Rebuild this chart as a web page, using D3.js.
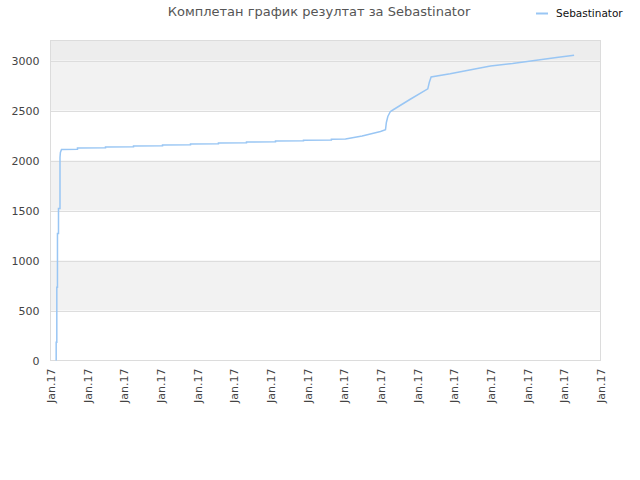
<!DOCTYPE html>
<html><head><meta charset="utf-8">
<script src="https://cdn.jsdelivr.net/npm/d3@7"></script>
<style>body{margin:0;background:#fff}svg{display:block;font-family:"DejaVu Sans",sans-serif}</style>
</head><body><svg id="c" width="640" height="480"></svg>
<script>
const title = "Комплетан график резултат за Sebastinator";
const seriesName = "Sebastinator";
const tickLabels = ["Jan.17","Jan.17","Jan.17","Jan.17","Jan.17","Jan.17","Jan.17","Jan.17","Jan.17","Jan.17","Jan.17","Jan.17","Jan.17","Jan.17","Jan.17","Jan.17"];
const yTicks = [0,500,1000,1500,2000,2500,3000];
const xs = [0.155,0.155,0.172,0.172,0.19,0.19,0.218,0.218,0.259,0.259,0.27,0.3,0.736,0.736,1.5,1.5,2.264,2.264,3.055,3.055,3.818,3.818,4.58,4.58,5.345,5.345,6.136,6.136,6.9,6.9,7.66,7.66,8.045,8.5,9.0,9.136,9.16,9.2,9.27,9.38,9.8,10.29,10.33,10.38,10.9,11.5,12,12.6,13.2,13.8,14.28];
const ys = [0,183,183,733,733,1270,1270,1520,1520,2030,2080,2110,2113,2125,2127,2135,2137,2145,2147,2155,2157,2165,2167,2175,2177,2185,2187,2195,2197,2202,2204,2212,2215,2245,2290,2307,2380,2440,2490,2515,2610,2717,2780,2835,2867,2910,2945,2970,3000,3030,3053];

const svg = d3.select("#c");
const L=50.5, R=600.5, T=40.5, B=360.5;
const x = d3.scaleLinear().domain([0, tickLabels.length-1]).range([L, R]);
const y = d3.scaleLinear().domain([0, 3200]).range([B, T]);

// bands
const bands = [[500,1000,"#f2f2f2"],[1500,2000,"#f2f2f2"],[2500,3000,"#f2f2f2"],[3000,3200,"#ededed"]];
svg.selectAll("rect.band").data(bands).enter().append("rect")
  .attr("x", L).attr("width", R-L)
  .attr("y", d=>y(d[1])).attr("height", d=>y(d[0])-y(d[1]))
  .attr("fill", d=>d[2]);
// grid
svg.selectAll("line.grid").data(yTicks.slice(1)).enter().append("line")
  .attr("x1", L).attr("x2", R).attr("y1", d=>Math.round(y(d))+0.5).attr("y2", d=>Math.round(y(d))+0.5)
  .attr("stroke", "#dddddd");
svg.append("rect").attr("x",L).attr("y",T).attr("width",R-L).attr("height",B-T)
  .attr("fill","none").attr("stroke","#dcdcdc");

// y axis
const ya = svg.append("g").attr("transform",`translate(${L},0)`)
  .call(d3.axisLeft(y).tickValues(yTicks).tickFormat(d3.format("d")).tickSize(0).tickPadding(11));
ya.select(".domain").remove();
ya.selectAll("text").attr("fill","#444").attr("font-size","11px").attr("font-family","DejaVu Sans");

// x axis
const xa = svg.append("g").attr("transform",`translate(0,${B})`)
  .call(d3.axisBottom(x).tickValues(d3.range(tickLabels.length)).tickFormat(i=>tickLabels[i]).tickSize(0));
xa.select(".domain").remove();
xa.selectAll("text").attr("fill","#444").attr("font-size","11px").attr("font-family","DejaVu Sans")
  .attr("text-anchor","end").attr("dy","0.35em")
  .attr("transform","translate(0,8) rotate(-90)").attr("x",0).attr("y",0);

// line
const pts = xs.map((v,i)=>[v, ys[i]]);
svg.append("path").datum(pts)
  .attr("fill","none").attr("stroke","#99c6f4").attr("stroke-width",1.5)
  .attr("d", d3.line().x(d=>x(d[0])).y(d=>y(d[1])));

// title
svg.append("text").attr("x",319).attr("y",16).attr("text-anchor","middle")
  .attr("font-size","13px").attr("fill","#555").text(title);
// legend
svg.append("line").attr("x1",536).attr("x2",548).attr("y1",13.5).attr("y2",13.5)
  .attr("stroke","#99c6f4").attr("stroke-width",2);
svg.append("text").attr("x",556).attr("y",17).attr("font-size","10.5px").attr("fill","#111").text(seriesName);
</script></body></html>
